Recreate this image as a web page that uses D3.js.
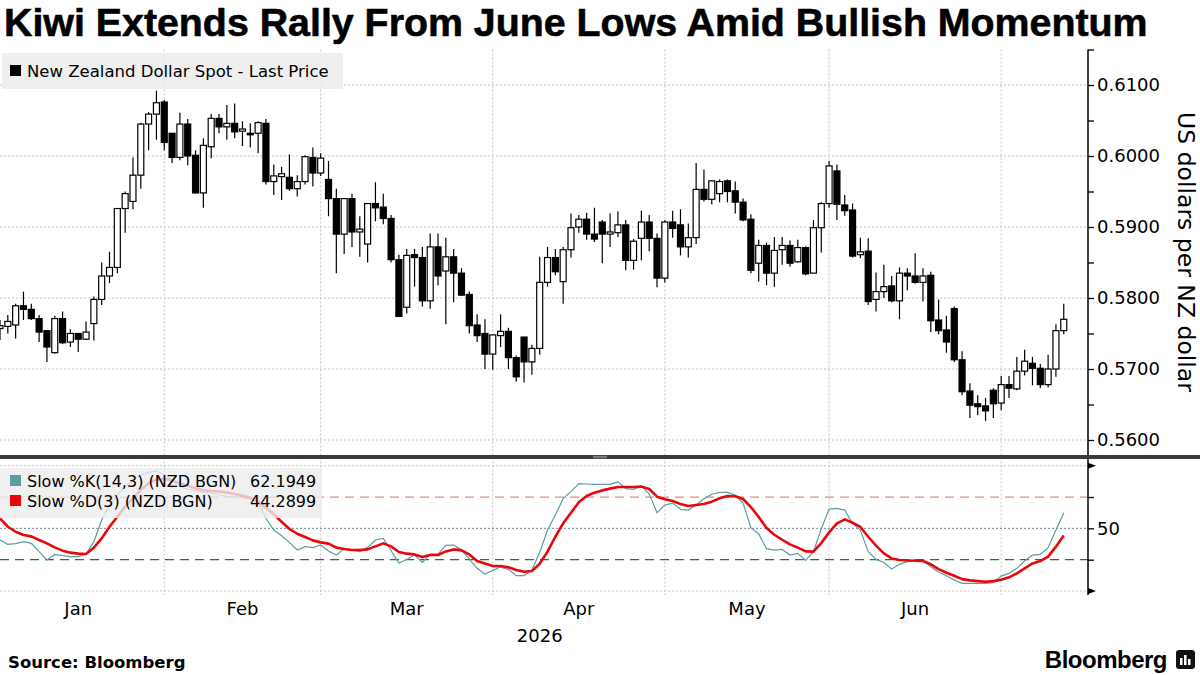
<!DOCTYPE html>
<html><head><meta charset="utf-8">
<script src="https://cdn.jsdelivr.net/npm/d3@7"></script>
<style>body{margin:0;background:#fff}svg{display:block}</style>
</head><body>
<svg id="chart" width="1200" height="675"></svg>
<script>
// ---- DATA ----
const openP = [0.5757,0.5760,0.5762,0.5789,0.5784,0.5771,0.5754,0.5723,0.5771,0.5738,0.5750,0.5742,0.5764,0.5798,0.5831,0.5843,0.5926,0.5936,0.5973,0.6045,0.6059,0.6076,0.6032,0.5998,0.6045,0.6001,0.5948,0.6013,0.6053,0.6041,0.6046,0.6035,0.6032,0.6032,0.6046,0.5964,0.5971,0.5970,0.5954,0.5964,0.5998,0.5976,0.5967,0.5940,0.5890,0.5940,0.5893,0.5876,0.5933,0.5928,0.5912,0.5854,0.5787,0.5861,0.5857,0.5796,0.5872,0.5838,0.5858,0.5835,0.5805,0.5762,0.5750,0.5721,0.5747,0.5753,0.5716,0.5745,0.5710,0.5729,0.5822,0.5857,0.5823,0.5868,0.5900,0.5911,0.5890,0.5907,0.5890,0.5892,0.5903,0.5853,0.5884,0.5907,0.5884,0.5828,0.5907,0.5903,0.5872,0.5885,0.5953,0.5939,0.5947,0.5965,0.5951,0.5935,0.5911,0.5849,0.5874,0.5835,0.5868,0.5874,0.5851,0.5871,0.5835,0.5899,0.5933,0.5979,0.5931,0.5924,0.5861,0.5866,0.5798,0.5809,0.5817,0.5796,0.5835,0.5831,0.5822,0.5832,0.5769,0.5755,0.5785,0.5713,0.5669,0.5651,0.5648,0.5670,0.5652,0.5678,0.5672,0.5697,0.5708,0.5701,0.5678,0.5700,0.5754];
const highP = [0.5769,0.5776,0.5792,0.5809,0.5792,0.5776,0.5754,0.5775,0.5781,0.5756,0.5750,0.5767,0.5802,0.5850,0.5865,0.5926,0.5950,0.5998,0.6047,0.6062,0.6092,0.6079,0.6032,0.6061,0.6052,0.6008,0.6025,0.6059,0.6059,0.6072,0.6074,0.6049,0.6046,0.6049,0.6052,0.5988,0.5985,0.6002,0.5973,0.6001,0.6012,0.6004,0.5993,0.5954,0.5940,0.5947,0.5915,0.5933,0.5963,0.5947,0.5917,0.5861,0.5869,0.5869,0.5872,0.5891,0.5891,0.5885,0.5869,0.5842,0.5809,0.5777,0.5770,0.5748,0.5777,0.5758,0.5719,0.5745,0.5734,0.5858,0.5872,0.5869,0.5872,0.5919,0.5917,0.5920,0.5927,0.5910,0.5919,0.5922,0.5910,0.5883,0.5923,0.5917,0.5891,0.5910,0.5923,0.5925,0.5905,0.5990,0.5981,0.5966,0.5967,0.5967,0.5964,0.5940,0.5918,0.5882,0.5878,0.5886,0.5886,0.5881,0.5882,0.5873,0.5910,0.5935,0.5993,0.5988,0.5945,0.5933,0.5885,0.5884,0.5836,0.5847,0.5831,0.5843,0.5842,0.5863,0.5842,0.5837,0.5798,0.5775,0.5788,0.5725,0.5680,0.5663,0.5659,0.5673,0.5690,0.5690,0.5717,0.5727,0.5717,0.5707,0.5720,0.5763,0.5792];
const lowP = [0.5741,0.5750,0.5743,0.5769,0.5769,0.5738,0.5710,0.5722,0.5735,0.5731,0.5724,0.5741,0.5740,0.5790,0.5821,0.5835,0.5892,0.5925,0.5954,0.6008,0.6023,0.6008,0.5990,0.5994,0.5987,0.5947,0.5927,0.5997,0.6032,0.6023,0.6025,0.6014,0.6012,0.6004,0.5960,0.5945,0.5938,0.5951,0.5943,0.5960,0.5957,0.5972,0.5915,0.5835,0.5862,0.5872,0.5858,0.5850,0.5908,0.5904,0.5850,0.5774,0.5778,0.5816,0.5788,0.5785,0.5818,0.5763,0.5794,0.5803,0.5750,0.5738,0.5700,0.5699,0.5731,0.5700,0.5682,0.5681,0.5692,0.5720,0.5816,0.5832,0.5792,0.5857,0.5892,0.5882,0.5879,0.5849,0.5872,0.5886,0.5839,0.5840,0.5853,0.5866,0.5815,0.5822,0.5885,0.5860,0.5857,0.5876,0.5936,0.5932,0.5935,0.5935,0.5919,0.5908,0.5835,0.5823,0.5818,0.5816,0.5847,0.5844,0.5850,0.5832,0.5835,0.5864,0.5927,0.5910,0.5916,0.5857,0.5856,0.5790,0.5781,0.5800,0.5794,0.5770,0.5811,0.5820,0.5795,0.5752,0.5749,0.5723,0.5710,0.5663,0.5631,0.5635,0.5627,0.5631,0.5642,0.5659,0.5670,0.5691,0.5677,0.5673,0.5674,0.5689,0.5749];
const closeP = [0.5761,0.5767,0.5789,0.5784,0.5771,0.5752,0.5731,0.5771,0.5737,0.5750,0.5742,0.5752,0.5798,0.5831,0.5843,0.5926,0.5947,0.5973,0.6045,0.6059,0.6075,0.6019,0.5998,0.6045,0.6000,0.5948,0.6015,0.6053,0.6041,0.6046,0.6034,0.6038,0.6031,0.6047,0.5964,0.5972,0.5975,0.5954,0.5964,0.5999,0.5976,0.5997,0.5940,0.5890,0.5940,0.5893,0.5897,0.5933,0.5927,0.5912,0.5854,0.5774,0.5860,0.5857,0.5796,0.5872,0.5831,0.5858,0.5835,0.5804,0.5761,0.5747,0.5721,0.5748,0.5753,0.5716,0.5689,0.5710,0.5729,0.5822,0.5857,0.5837,0.5868,0.5899,0.5911,0.5890,0.5883,0.5890,0.5893,0.5903,0.5853,0.5880,0.5907,0.5884,0.5828,0.5907,0.5898,0.5872,0.5885,0.5953,0.5939,0.5965,0.5964,0.5950,0.5935,0.5910,0.5839,0.5874,0.5835,0.5867,0.5874,0.5849,0.5871,0.5834,0.5899,0.5933,0.5986,0.5932,0.5923,0.5859,0.5865,0.5795,0.5809,0.5816,0.5796,0.5835,0.5831,0.5822,0.5831,0.5768,0.5754,0.5738,0.5713,0.5668,0.5649,0.5647,0.5641,0.5651,0.5678,0.5673,0.5697,0.5711,0.5701,0.5678,0.5700,0.5754,0.5770];
const slowK = [40.7,37.2,37.8,39.4,38.0,31.4,24.7,29.2,28.2,27.4,27.4,29.5,39.4,56.7,68.6,76.6,83.3,88.6,92.6,94.7,95.8,92.6,88.6,83.3,81.4,79.8,78.7,78.0,76.6,75.3,75.3,74.5,73.4,71.3,58.0,48.7,44.1,38.8,32.7,35.4,34.6,36.7,31.9,28.7,34.0,32.7,31.4,34.8,40.7,42.0,32.2,22.3,25.2,28.7,22.8,29.5,29.5,36.4,36.7,32.7,25.5,18.1,13.5,16.5,19.1,17.3,12.2,12.2,16.7,30.8,48.7,60.6,73.7,79.3,85.7,85.4,85.1,85.1,85.1,87.3,81.7,81.1,84.1,77.4,62.5,68.6,70.2,65.2,64.6,68.6,73.7,77.2,78.7,78.7,76.6,70.2,50.5,45.5,33.8,32.7,33.2,28.7,30.0,24.4,31.4,49.5,65.4,66.0,64.6,54.0,48.4,31.4,25.2,22.8,17.5,21.3,23.4,24.4,24.2,19.4,14.9,12.2,8.7,6.1,6.1,6.1,6.1,6.6,11.9,14.1,18.1,23.9,28.7,29.2,34.6,48.7,62.1949];
const slowD = [58.0,51.3,47.3,44.7,43.6,40.7,38.0,34.8,32.2,30.6,29.8,29.5,34.6,42.0,51.3,59.3,67.3,74.0,80.6,85.9,89.1,89.4,88.3,85.9,84.1,81.9,80.3,79.8,79.3,78.7,77.4,76.1,74.5,71.3,66.5,61.2,55.3,49.5,45.7,43.1,40.4,38.8,37.8,34.6,33.5,32.7,32.7,33.2,35.6,38.0,35.6,31.1,29.8,29.2,27.1,28.7,28.7,31.6,33.2,32.4,29.2,23.9,22.0,19.9,19.9,18.9,16.7,15.4,15.9,21.8,31.4,43.3,54.0,62.5,70.8,75.8,78.5,80.3,81.7,83.0,83.0,83.0,83.3,81.4,75.3,73.2,71.8,69.4,67.8,68.6,69.4,71.3,74.0,75.8,75.6,73.4,67.0,59.1,50.3,44.9,40.9,37.2,34.6,31.6,31.4,38.3,46.8,54.0,57.2,54.5,51.1,43.3,36.2,30.0,26.0,24.7,24.4,24.2,23.9,21.3,17.5,14.6,12.2,9.5,8.5,7.9,7.4,7.9,9.0,10.9,14.1,18.1,22.0,23.9,27.4,35.4,44.2899];
const monthLabels = ["Jan","Feb","Mar","Apr","May","Jun"];
const monthStartIdx = [-1,21,41,63,85,106,128]; // trading-day index of each month's first session
const priceTicks = [0.56,0.57,0.58,0.59,0.60,0.61];
const priceMinorTicks = [0.565,0.575,0.585,0.595,0.605,0.615];
const stochTicks = [50];
const stochLevels = {upper:75, lower:25};

// ---- LAYOUT ----
const svg = d3.select("#chart");
const W = 1200, axisX = 1088;
const FONT = "'DejaVu Sans', Verdana, sans-serif";
const n = closeP.length;
const x = d3.scaleLinear().domain([0, 139.1]).range([0, axisX]);
const yP = d3.scaleLinear().domain([0.56, 0.615]).range([440, 49.5]);
const yS = d3.scaleLinear().domain([0, 100]).range([591, 465.7]);
const priceTop = 49.5, priceBot = 455, stochTop = 460, stochBot = 595;

svg.append("rect").attr("width",W).attr("height",675).attr("fill","#fff");

// title
const title = svg.append("text").attr("x",4).attr("y",36)
  .attr("font-family","'Liberation Sans', Arial, sans-serif").attr("font-weight","bold")
  .attr("font-size",34).attr("fill","#000").attr("stroke","#000").attr("stroke-width",0.6)
  .text("Kiwi Extends Rally From June Lows Amid Bullish Momentum");
const tw = title.node().getComputedTextLength();
title.attr("font-size", 34*1144/tw);

const defs = svg.append("defs");
defs.append("clipPath").attr("id","pclip").append("rect").attr("x",0).attr("y",priceTop).attr("width",axisX).attr("height",priceBot-priceTop);

// gridlines price
const g = svg.append("g");
g.selectAll(".hg").data(priceTicks).join("line")
  .attr("x1",0).attr("x2",axisX).attr("y1",d=>yP(d)).attr("y2",d=>yP(d))
  .attr("stroke","#c4c4c4").attr("stroke-width",1).attr("stroke-dasharray","2,2");
// vertical month gridlines
g.selectAll(".vg").data(monthStartIdx.slice(1)).join("line")
  .attr("x1",d=>x(d)).attr("x2",d=>x(d)).attr("y1",priceTop).attr("y2",stochBot)
  .attr("stroke","#c4c4c4").attr("stroke-width",1).attr("stroke-dasharray","2,2");

// stoch reference lines
g.selectAll(".sg").data([0,100]).join("line")
  .attr("x1",0).attr("x2",axisX).attr("y1",d=>yS(d)).attr("y2",d=>yS(d))
  .attr("stroke","#c4c4c4").attr("stroke-dasharray","2,2");
g.append("line").attr("x1",0).attr("x2",axisX).attr("y1",yS(50)).attr("y2",yS(50))
  .attr("stroke","#6f8795").attr("stroke-dasharray","2,2");
g.append("line").attr("x1",0).attr("x2",axisX).attr("y1",yS(stochLevels.upper)).attr("y2",yS(stochLevels.upper))
  .attr("stroke","#e0907a").attr("stroke-width",1.2).attr("stroke-dasharray","9,6");
g.append("line").attr("x1",0).attr("x2",axisX).attr("y1",yS(stochLevels.lower)).attr("y2",yS(stochLevels.lower))
  .attr("stroke","#1e7a1e").attr("stroke-width",1.2).attr("stroke-dasharray","9,6");

// candles
const idx = d3.range(n);
const cg = svg.append("g").attr("clip-path","url(#pclip)");
cg.selectAll(".wick").data(idx).join("line")
  .attr("x1",i=>x(i)).attr("x2",i=>x(i))
  .attr("y1",i=>yP(highP[i])).attr("y2",i=>yP(lowP[i]))
  .attr("stroke","#000").attr("stroke-width",1.2);
const bw = 6;
cg.selectAll(".body").data(idx).join("rect")
  .attr("x",i=>x(i)-bw/2)
  .attr("y",i=>yP(Math.max(openP[i],closeP[i])))
  .attr("width",bw)
  .attr("height",i=>Math.max(1.5, Math.abs(yP(openP[i])-yP(closeP[i]))))
  .attr("fill",i=>closeP[i]>=openP[i]?"#fff":"#000")
  .attr("stroke","#000").attr("stroke-width",1.2);

// stochastic lines
const line = d3.line().x((d,i)=>x(i)).y(d=>yS(d));
svg.append("path").datum(slowK).attr("d",line).attr("fill","none")
  .attr("stroke","#5e9ca2").attr("stroke-width",1.2);
svg.append("path").datum(slowD).attr("d",line).attr("fill","none")
  .attr("stroke","#e8080c").attr("stroke-width",2.6).attr("stroke-linejoin","round");

// legends
const lg = svg.append("g");
lg.append("rect").attr("x",2).attr("y",53).attr("width",341).attr("height",36)
  .attr("fill","#ececec").attr("fill-opacity",0.85);
lg.append("rect").attr("x",10).attr("y",65).attr("width",11).attr("height",11).attr("fill","#000");
lg.append("text").attr("x",27).attr("y",77).attr("font-family",FONT).attr("font-size",16.5)
  .attr("fill","#000").text("New Zealand Dollar Spot - Last Price");

const sl = svg.append("g");
sl.append("rect").attr("x",0).attr("y",468).attr("width",322).attr("height",50)
  .attr("fill","#ececec").attr("fill-opacity",0.8);
const stochLegend = [
  {name:"Slow %K(14,3) (NZD BGN)", val:slowK[n-1].toFixed(4), color:"#5e9ca2", y:487},
  {name:"Slow %D(3) (NZD BGN)", val:slowD[n-1].toFixed(4), color:"#e8080c", y:507}
];
stochLegend.forEach(d=>{
  sl.append("rect").attr("x",10).attr("y",d.y-12).attr("width",11).attr("height",11).attr("fill",d.color);
  sl.append("text").attr("x",27).attr("y",d.y).attr("font-family",FONT).attr("font-size",16)
    .attr("fill","#000").text(d.name);
  sl.append("text").attr("x",250).attr("y",d.y).attr("font-family",FONT).attr("font-size",16)
    .attr("fill","#000").text(d.val);
});

// right axes
const ax = svg.append("g").attr("transform",`translate(${axisX},0)`);
ax.append("line").attr("x1",0).attr("x2",0).attr("y1",priceTop).attr("y2",stochBot)
  .attr("stroke","#000").attr("stroke-width",1.5);
const pAxis = ax.append("g").call(d3.axisRight(yP).tickValues(priceTicks).tickFormat(d3.format(".4f")).tickSize(6).tickSizeOuter(0));
pAxis.select(".domain").remove();
pAxis.selectAll("text").attr("font-family",FONT).attr("font-size",18).attr("fill","#000").attr("x",9);
pAxis.selectAll("line").attr("stroke","#000").attr("stroke-width",1.3);
const pMinor = ax.append("g").call(d3.axisRight(yP).tickValues(priceMinorTicks).tickFormat("").tickSize(6).tickSizeOuter(0));
pMinor.select(".domain").remove();
pMinor.selectAll("line").attr("stroke","#000").attr("stroke-width",1.3);

const sAxis = ax.append("g").call(d3.axisRight(yS).tickValues(stochTicks).tickSize(6).tickSizeOuter(0));
sAxis.select(".domain").remove();
sAxis.selectAll("text").attr("font-family",FONT).attr("font-size",18).attr("fill","#000").attr("x",9);
sAxis.selectAll("line").attr("stroke","#000").attr("stroke-width",1.3);
const sMinor = ax.append("g").call(d3.axisRight(yS).tickValues([stochLevels.lower,stochLevels.upper]).tickFormat("").tickSize(6).tickSizeOuter(0));
sMinor.select(".domain").remove();
sMinor.selectAll("line").attr("stroke","#000").attr("stroke-width",1.3);
// arrow markers at 0 and 100
ax.selectAll(".arr").data([0,100]).join("path")
  .attr("d",d=>`M0,${yS(d)-3}L8,${yS(d)}L0,${yS(d)+3}Z`).attr("fill","#000");

// axis title
svg.append("text").attr("transform","translate(1178,252) rotate(90)")
  .attr("text-anchor","middle").attr("font-family",FONT).attr("font-size",23.5).attr("fill","#000")
  .text("US dollars per NZ dollar");

// separator
svg.append("rect").attr("x",0).attr("y",455).attr("width",W).attr("height",4).attr("fill","#3a3a3a");
svg.append("line").attr("x1",593).attr("x2",607).attr("y1",456.3).attr("y2",456.3).attr("stroke","#aaa").attr("stroke-width",0.8);
svg.append("line").attr("x1",593).attr("x2",607).attr("y1",457.8).attr("y2",457.8).attr("stroke","#aaa").attr("stroke-width",0.8);

// x axis labels
const mids = monthLabels.map((m,k)=>({m, c:(monthStartIdx[k]+monthStartIdx[k+1])/2}));
svg.selectAll(".ml").data(mids).join("text")
  .attr("x",d=>x(d.c)).attr("y",615).attr("text-anchor","middle")
  .attr("font-family",FONT).attr("font-size",18).attr("fill","#000").text(d=>d.m);
svg.append("text").attr("x",x(69)).attr("y",642).attr("text-anchor","middle")
  .attr("font-family",FONT).attr("font-size",18).attr("fill","#000").text("2026");

// footer
svg.append("text").attr("x",8).attr("y",668).attr("font-family",FONT).attr("font-weight","bold")
  .attr("font-size",16.5).attr("fill","#000").text("Source: Bloomberg");
svg.append("text").attr("x",1167).attr("y",668).attr("text-anchor","end").attr("font-family","'Liberation Sans', Arial, sans-serif").attr("font-weight","bold")
  .attr("font-size",24).attr("letter-spacing",-0.5).attr("fill","#000").text("Bloomberg");
const logo = svg.append("g").attr("transform","translate(1176,650)");
logo.append("rect").attr("width",19).attr("height",19).attr("rx",3).attr("fill","#111");
[[4,8],[8,5],[12,9]].forEach(([bx,by])=>logo.append("rect").attr("x",bx).attr("y",by).attr("width",2.5).attr("height",15-by).attr("fill","#fff"));
</script>
</body></html>
